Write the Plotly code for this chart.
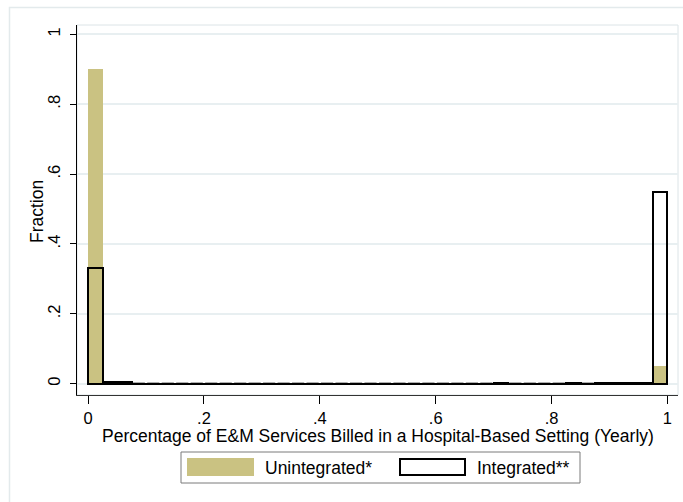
import plotly.graph_objects as go

# Histogram of the yearly share of E&M services billed in a hospital-based setting
bin_width = 0.025
n_bins = 40

unintegrated = [0.90, 0.009] + [0.0] * 37 + [0.052]
integrated = ([0.33, 0.005, 0.004] + [0.0] * 25 + [0.003] + [0.0] * 4 + [0.003]
              + [0.0] + [0.003] * 4 + [0.55])

series_names = ["Unintegrated*", "Integrated**"]
x_tick_vals = [0, 0.2, 0.4, 0.6, 0.8, 1]
x_tick_text = ["0", ".2", ".4", ".6", ".8", "1"]
y_tick_vals = [0, 0.2, 0.4, 0.6, 0.8, 1]
y_tick_text = ["0", ".2", ".4", ".6", ".8", "1"]
x_title = "Percentage of E&M Services Billed in a Hospital-Based Setting (Yearly)"
y_title = "Fraction"

bin_centers = [(i + 0.5) * bin_width for i in range(n_bins)]

GOLD = "#CAC282"
GRID = "#E8EFF1"
FONT = "Liberation Sans, Arial, sans-serif"
FS = 17.5
TICK_FS = 16.5

W, H = 683, 502
ML, MR, MT, MB = 77, 5, 25, 107
PW, PH = W - ML - MR, H - MT - MB


def px(x):
    return (x - ML) / PW


def py(y):
    return (H - MB - y) / PH


fig = go.Figure()
fig.add_trace(go.Bar(
    x=bin_centers, y=unintegrated, width=bin_width, name=series_names[0],
    marker=dict(color=GOLD, line=dict(width=0)), showlegend=False,
))
fig.add_trace(go.Bar(
    x=bin_centers, y=integrated, width=bin_width, name=series_names[1],
    marker=dict(color="rgba(0,0,0,0)", line=dict(color="black", width=2)),
    showlegend=False,
))

shapes = []
# outlines of empty bins along the baseline
for c, v in zip(bin_centers, integrated):
    if v == 0:
        shapes.append(dict(type="line", xref="x", yref="y",
                           x0=c - bin_width / 2 + 0.002, x1=c + bin_width / 2 - 0.002,
                           y0=0, y1=0, line=dict(color="black", width=2)))
# plot region frame
shapes.append(dict(type="rect", xref="paper", yref="paper", x0=0, x1=1, y0=0, y1=1,
                   line=dict(color="#DCE4E7", width=1), layer="below"))
# outer graph frame
shapes.append(dict(type="rect", xref="paper", yref="paper",
                   x0=px(9.5), x1=px(720), y0=py(7.5), y1=py(540),
                   line=dict(color="#E3EAEC", width=1.5), layer="below"))
# legend box and keys
shapes.append(dict(type="rect", xref="paper", yref="paper",
                   x0=px(181), x1=px(580), y0=py(452), y1=py(483),
                   line=dict(color="#7a7a7a", width=1), fillcolor="white"))
shapes.append(dict(type="rect", xref="paper", yref="paper",
                   x0=px(187), x1=px(254), y0=py(458), y1=py(476),
                   line=dict(width=0), fillcolor=GOLD))
shapes.append(dict(type="rect", xref="paper", yref="paper",
                   x0=px(400), x1=px(465), y0=py(459), y1=py(475),
                   line=dict(color="black", width=2), fillcolor="white"))

annotations = [
    dict(text=series_names[0], xref="paper", yref="paper", x=px(263), y=py(468),
         xanchor="left", yanchor="middle", showarrow=False,
         font=dict(family=FONT, size=FS, color="black")),
    dict(text=series_names[1], xref="paper", yref="paper", x=px(475), y=py(468),
         xanchor="left", yanchor="middle", showarrow=False,
         font=dict(family=FONT, size=FS, color="black")),
    # axis titles
    dict(text=x_title, xref="paper", yref="paper", x=0.5, y=py(436),
         xanchor="center", yanchor="middle", showarrow=False, borderpad=0,
         font=dict(family=FONT, size=FS, color="black")),
    dict(text=y_title, xref="paper", yref="paper", x=px(37), y=py(212),
         xanchor="center", yanchor="middle", textangle=-90, showarrow=False,
         borderpad=0,
         font=dict(family=FONT, size=FS, color="black")),
]

fig.update_layout(
    width=W, height=H,
    margin=dict(l=ML, r=MR, t=MT, b=MB, pad=0),
    barmode="overlay", bargap=0,
    paper_bgcolor="white", plot_bgcolor="white",
    font=dict(family=FONT, size=FS, color="black"),
    shapes=shapes, annotations=annotations,
    xaxis=dict(
        range=[-0.0192, 1.0183], tickvals=x_tick_vals, ticktext=x_tick_text,
        tickfont=dict(size=TICK_FS),
        ticks="outside", ticklen=8, tickcolor="black", tickwidth=1,
        ticklabelstandoff=0,
        showline=True, linecolor="#333333", linewidth=1,
        showgrid=False, zeroline=False,
        automargin=False,
    ),
    yaxis=dict(
        range=[-0.0324, 1.027], tickvals=y_tick_vals, ticktext=y_tick_text,
        tickfont=dict(size=TICK_FS),
        tickangle=-90,
        ticks="outside", ticklen=6, tickcolor="black", tickwidth=1,
        ticklabelstandoff=3,
        showline=True, linecolor="black", linewidth=1,
        showgrid=True, gridcolor=GRID, gridwidth=1.5, zeroline=False,
        automargin=False,
    ),
)

fig.write_html("out.html")
